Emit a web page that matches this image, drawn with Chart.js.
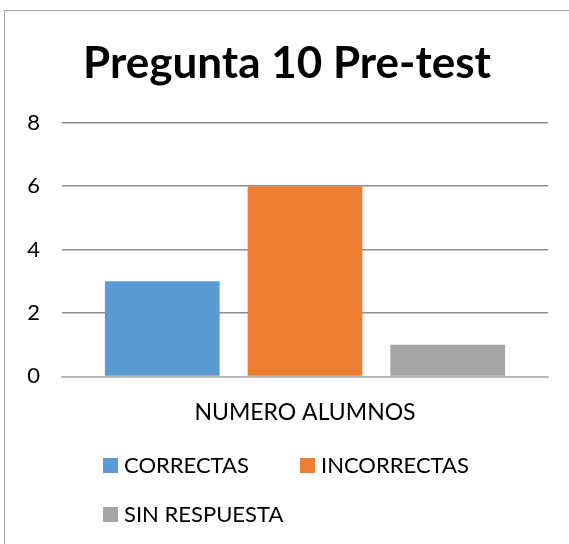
<!DOCTYPE html>
<html>
<head>
<meta charset="utf-8">
<script src="https://cdn.jsdelivr.net/npm/chart.js@4.4.1/dist/chart.umd.min.js"></script>
<style>
  html, body { margin: 0; padding: 0; background: #fff; }
  #wrap { position: relative; width: 569px; height: 544px; overflow: hidden; }
  #frame { position: absolute; left: 4px; top: 10px; width: 600px; height: 600px; border: 1px solid #a6a6a6; box-sizing: border-box; }
  canvas { position: absolute; left: 0; top: 0; }
  .box { position: absolute; width: 15px; height: 15px; }
  .txt { position: absolute; font-family: Lato, "Open Sans", sans-serif; font-size: 22px; color: #000; white-space: nowrap; line-height: 26px; }
</style>
</head>
<body>
<div id="wrap">
  <div id="frame"></div>
  <canvas id="c" width="569" height="544"></canvas>
  <div id="legend"></div>
</div>
<script>
const title = "Pregunta 10 Pre-test";
const categories = ["NUMERO ALUMNOS"];
const seriesNames = ["CORRECTAS", "INCORRECTAS", "SIN RESPUESTA"];
const seriesValues = [[3], [6], [1]];
const seriesColors = ["#5B9BD5", "#ED7D31", "#A5A5A5"];
const yTicks = [0, 2, 4, 6, 8];

const FONT = "Lato, 'Open Sans', sans-serif";

const datasets = seriesNames.map((n, i) => ({
  label: n,
  data: seriesValues[i],
  backgroundColor: seriesColors[i],
  borderWidth: 0,
  categoryPercentage: 0.881,
  barPercentage: 0.804
}));

new Chart(document.getElementById('c'), {
  type: 'bar',
  data: { labels: categories, datasets },
  options: {
    responsive: false,
    animation: false,
    devicePixelRatio: 1,
    layout: { padding: { left: 26, right: 21, top: 0, bottom: 96 } },
    plugins: {
      legend: { display: false },
      tooltip: { enabled: false },
      title: {
        display: true,
        text: title,
        color: '#000',
        font: { family: FONT, size: 44, weight: 'bold' },
        padding: { top: 37, bottom: 33 }
      }
    },
    scales: {
      x: {
        grid: { display: false, drawTicks: false },
        border: { display: true, color: '#b3b3b3', width: 1.5 },
        ticks: { color: '#000', font: { family: FONT, size: 23 }, padding: 22 }
      },
      y: {
        min: 0, max: 8,
        afterBuildTicks: (s) => { s.ticks = yTicks.map(v => ({ value: v })); },
        afterFit: (s) => { s.width = 36; },
        grid: { color: '#8e8e8e', lineWidth: 1.5, drawTicks: false },
        border: { display: false },
        ticks: { color: '#000', font: { family: FONT, size: 22 }, padding: 22 }
      }
    }
  }
});

const legend = document.getElementById('legend');
const boxPos = [[103, 458], [300, 458], [103, 507]];
seriesNames.forEach((n, i) => {
  const b = document.createElement('div');
  b.className = 'box';
  b.style.left = boxPos[i][0] + 'px';
  b.style.top = boxPos[i][1] + 'px';
  b.style.background = seriesColors[i];
  legend.appendChild(b);
  const t = document.createElement('div');
  t.className = 'txt';
  t.style.left = (boxPos[i][0] + 21) + 'px';
  t.style.top = (boxPos[i][1] + 7 - 13) + 'px';
  t.textContent = n;
  legend.appendChild(t);
});
</script>
</body>
</html>
